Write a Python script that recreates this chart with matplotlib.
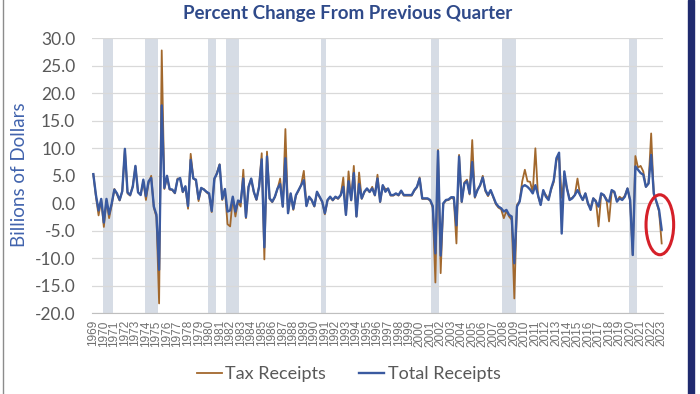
import numpy as np
import matplotlib.pyplot as plt
from matplotlib.patches import Ellipse, Rectangle
from matplotlib.lines import Line2D

# quarterly % change, 1969Q1 .. 2023Q1
total_receipts = [
    5.3, 1.5, -1.3, 0.8, -3.5, 0.8, -2.0, 0.0, 2.5, 1.8,
    0.6, 2.2, 9.9, 2.0, 1.5, 3.0, 6.8, 2.0, 1.5, 4.3,
    1.3, 4.0, 4.6, -0.6, -2.1, -12.1, 17.8, 2.8, 5.0, 2.6,
    2.5, 1.9, 4.3, 4.6, 2.1, 3.1, -0.5, 7.9, 4.5, 4.3,
    0.8, 2.8, 2.5, 2.1, 1.8, -1.4, 4.5, 5.4, 7.0, 0.8,
    2.6, -1.5, -1.3, 1.2, -1.5, 0.5, 0.2, 4.5, -2.5, 3.0,
    4.5, 2.1, 0.7, 3.0, 8.0, -8.0, 8.5, 0.9, 0.3, 1.2,
    2.7, 3.5, -0.6, 8.2, -1.8, 1.8, -1.0, 1.5, 2.4, 3.3,
    4.2, -0.5, 1.2, 0.6, -0.5, 2.1, 1.2, 0.3, -1.8, 0.6,
    1.2, 0.6, 1.2, 0.9, 1.5, 3.0, -2.1, 4.0, 0.6, 5.5,
    -2.4, 3.5, 0.9, 2.1, 2.7, 2.1, 2.7, 1.5, 4.5, 0.3,
    3.3, 2.1, 2.7, 1.5, 1.5, 1.8, 1.5, 2.3, 1.5, 1.5,
    1.5, 1.5, 2.4, 3.0, 4.5, 0.9, 0.9, 0.9, 0.6, -0.5,
    -9.1, 9.5, -9.5, 0.0, 0.6, 0.7, 1.1, 1.1, -4.0, 8.5,
    0.3, 3.6, 4.0, 1.8, 7.5, 1.2, 2.4, 3.3, 4.7, 2.4,
    1.5, 2.4, 1.2, 0.0, -0.6, -0.9, -1.5, -1.2, -2.1, -2.4,
    -10.9, -0.6, 0.3, 3.0, 3.3, 3.0, 2.5, 1.8, 3.3, 1.5,
    -0.3, 2.4, 1.2, 0.6, 2.7, 4.2, 8.2, 9.2, -5.5, 5.8,
    2.7, 0.6, 0.9, 1.5, 2.4, 1.5, 0.6, 1.8, 0.0, -1.2,
    0.9, 0.3, -0.6, 1.8, 1.5, 0.6, 0.3, 2.4, 2.1, 0.3,
    0.9, 0.6, 1.2, 2.7, 0.6, -9.4, 6.7, 6.1, 5.5, 5.2,
    3.0, 3.6, 8.8, 1.8, 0.3, -1.2, -4.8,
]
tax_receipts = [
    5.3, 1.2, -2.2, 0.6, -4.3, 0.5, -2.7, -0.3, 2.6, 1.6,
    0.5, 2.2, 9.8, 1.8, 1.4, 3.2, 6.7, 2.0, 1.6, 4.0,
    0.6, 3.7, 5.0, -0.8, -2.5, -18.2, 27.8, 2.6, 4.8, 2.5,
    2.4, 1.8, 4.5, 4.4, 2.0, 3.0, -1.0, 9.0, 4.6, 4.1,
    0.4, 2.7, 2.6, 2.0, 1.6, -1.6, 4.3, 5.6, 7.1, 0.6,
    2.5, -3.8, -4.2, 1.0, -2.4, 0.3, -0.6, 6.1, -2.7, 3.0,
    4.4, 2.0, 0.6, 3.1, 9.1, -10.2, 9.4, 0.8, 0.2, 1.1,
    2.6, 4.5, -0.6, 13.5, -1.8, 1.7, -1.2, 1.4, 2.3, 3.4,
    5.9, -0.4, 1.1, 0.5, -0.6, 2.0, 1.1, 0.2, -2.0, 0.5,
    1.1, 0.5, 1.1, 0.8, 1.4, 4.7, -2.1, 5.8, 0.5, 6.8,
    -2.4, 5.6, 0.8, 2.0, 2.6, 2.0, 3.0, 1.4, 5.2, 0.2,
    3.2, 2.6, 2.6, 1.4, 1.4, 1.7, 1.4, 2.2, 1.4, 1.4,
    1.4, 1.4, 2.3, 2.9, 4.7, 0.8, 0.8, 0.8, 0.5, -0.8,
    -14.4, 9.7, -12.7, -0.1, 0.5, 0.6, 1.0, 0.8, -7.3, 8.8,
    0.2, 3.8, 4.3, 1.6, 11.5, 1.0, 2.5, 3.2, 5.0, 2.2,
    1.3, 2.3, 1.1, -0.2, -0.8, -1.1, -2.7, -1.4, -2.4, -3.0,
    -17.3, -0.3, 0.4, 4.0, 6.1, 4.0, 3.9, 2.0, 10.0, 1.3,
    -0.2, 2.2, 1.5, 0.8, 2.5, 3.9, 7.8, 8.7, 1.0, 4.5,
    2.7, 0.8, 1.0, 1.5, 4.5, 1.5, 0.6, 1.8, -0.2, -0.8,
    0.9, 0.5, -4.2, 1.6, 1.5, 0.8, -3.3, 2.2, 2.0, 0.4,
    1.2, 0.8, 1.4, 2.7, 0.5, -9.4, 8.6, 6.5, 6.8, 5.8,
    3.0, 3.6, 12.7, 1.6, 0.2, -1.5, -7.3,
]
years = list(range(1969, 2024))
recessions = [("1970Q1", "1970Q4"), ("1974Q1", "1975Q1"), ("1980Q1", "1980Q3"),
              ("1981Q4", "1982Q4"), ("1990Q4", "1991Q1"), ("2001Q2", "2001Q4"),
              ("2008Q1", "2009Q1"), ("2020Q1", "2020Q3")]


def q_index(s):
    yr, q = s.split('Q')
    return (int(yr) - 1969) * 4 + int(q) - 1


plt.rcParams['font.family'] = ['Lato', 'DejaVu Sans']

fig = plt.figure(figsize=(7, 3.94), dpi=100)
ax = fig.add_axes([92 / 700, 1 - 313.3 / 394, 571 / 700, 275 / 394])

x = np.arange(len(total_receipts))
for s, e in recessions:
    ax.axvspan(q_index(s) - 0.5, q_index(e) + 0.5, color='#d6dce5', lw=0, zorder=0)

ax.plot(x, tax_receipts, color='#a2682d', lw=1.3, label='Tax Receipts', zorder=3)
ax.plot(x, total_receipts, color='#3a5aa0', lw=1.7, label='Total Receipts', zorder=4)

ax.set_xlim(-0.5, len(total_receipts) - 0.5)
ax.set_ylim(-20, 30)
yt = np.arange(-20, 31, 5)
ax.set_yticks(yt)
ax.set_yticklabels([f'{v:.1f}' for v in yt], fontsize=12.5, color='#595959')
ax.set_xticks(np.arange(0, len(total_receipts), 4))
ax.set_xticklabels([str(y) for y in years], rotation=90, fontsize=8.5,
                   color='#6f6f6f', family='Liberation Sans')
ax.tick_params(axis='y', length=0, pad=12)
ax.tick_params(axis='x', length=0, pad=5)
ax.grid(axis='y', color='#d9d9d9', lw=0.9)
ax.set_axisbelow(True)
for sp in ['top', 'left', 'right']:
    ax.spines[sp].set_visible(False)
ax.spines['bottom'].set_color('#bfbfbf')
ax.spines['bottom'].set_zorder(1)

# red ring round the last quarter
ax.add_patch(Ellipse((215.3, -3.9), 10.5, 10.9, fill=False, edgecolor='#d52029',
                     lw=2.2, clip_on=False, zorder=5))

fig.text(0.496, 1 - 14 / 394, 'Percent Change From Previous Quarter', ha='center',
         va='center', fontsize=13.5, weight='bold', color='#2f4a8a')
fig.text(20 / 700, 1 - 175 / 394, 'Billions of Dollars', rotation=90, ha='center',
         va='center', fontsize=13.5, color='#4163ad')

fig.legend(loc='center', bbox_to_anchor=(0.498, 1 - 374 / 394), ncol=2, frameon=False,
           fontsize=13, labelcolor='#595959', handlelength=1.4, handletextpad=0.2,
           columnspacing=1.8)

# slide border bits
fig.add_artist(Line2D([3 / 700, 3 / 700], [0, 1], color='#8c8c8c', lw=1))
fig.add_artist(Rectangle((688 / 700, 0), 6 / 700, 1, color='#1f2a6e',
                         transform=fig.transFigure))

fig.savefig('out.png', dpi=100)
